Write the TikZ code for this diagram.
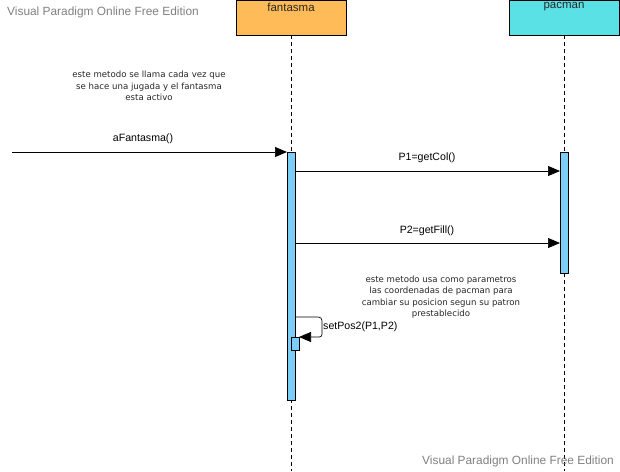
\documentclass[tikz,border=0pt]{standalone}
\usepackage{fontspec}
\setmainfont{Liberation Sans}
\newfontfamily\notefont{DejaVu Sans}
\usetikzlibrary{arrows.meta}
\definecolor{fantc}{RGB}{255,187,87}
\definecolor{pacc}{RGB}{90,225,230}
\definecolor{actc}{RGB}{125,206,245}
\definecolor{wmc}{RGB}{128,128,128}
\begin{document}
\begin{tikzpicture}[x=1pt,y=-1pt,
  head/.style={draw=black,line width=0.8pt,minimum width=110pt,minimum height=35pt,inner sep=0pt},
  life/.style={draw=black,dash pattern=on 4pt off 3pt,line width=0.6pt},
  actbox/.style={draw=black,fill=actc,line width=0.6pt},
  msg/.style={draw=black,line width=0.7pt,-{Triangle[length=12pt,width=10pt]}},
  lbl/.style={font=\fontsize{10.6}{12}\selectfont,inner sep=0pt},
  hlbl/.style={font=\fontsize{11.5}{13}\selectfont,inner sep=0pt,text=black!85},
  note/.style={font=\notefont\fontsize{8.6}{11.5}\selectfont,align=center,inner sep=0pt,text=black!85},
  wm/.style={font=\fontsize{11.9}{13}\selectfont,text=wmc,inner sep=0pt}]
\useasboundingbox (0,0) rectangle (620,471);
% lifelines
\coordinate (fl0) at (291,35);
\coordinate (fl1) at (291,471);
\coordinate (pl0) at (564,35);
\coordinate (pl1) at (564,471);
\draw[life] (fl0) -- (fl1);
\draw[life] (pl0) -- (pl1);
% heads
\node[head,fill=fantc,anchor=north west] (fant) at (236,0) {};
\node[hlbl,anchor=north] at (291,2.5) {fantasma};
\node[head,fill=pacc,anchor=north west] (pac) at (509,0) {};
\node[hlbl,anchor=north] at (564,2.5) {pacman};
% activations
\draw[actbox] (287,152) rectangle (295,400);
\draw[actbox] (560,152) rectangle (568,273);
\draw[actbox] (291,337) rectangle (299,350);
\coordinate (fa1) at (287,152);
\coordinate (start) at (12,152);
\draw[msg] (start) -- (fa1);
\node[lbl] at (143,139) {aFantasma()};
\coordinate (m1a) at (295,171);
\coordinate (m1b) at (560,171);
\draw[msg] (m1a) -- (m1b);
\node[lbl] at (427,158) {P1=getCol()};
\coordinate (m2a) at (295,243);
\coordinate (m2b) at (560,243);
\draw[msg] (m2a) -- (m2b);
\node[lbl] at (427,231) {P2=getFill()};
% self message
\coordinate (s0) at (295,317);
\coordinate (s1) at (299,337);
\draw[msg] (s0) -- (314,317) .. controls (322,317) and (322,317) .. (322,325) -- (322,331) .. controls (322,337) and (322,337) .. (316,337) -- (s1);
\node[lbl,anchor=west] at (323,327) {setPos2(P1,P2)};
% notes
\node[note] at (149,86) {este metodo se llama cada vez que\\se hace una jugada y el fantasma\\esta activo};
\node[note] at (441,297) {este metodo usa como parametros\\las coordenadas de pacman para\\cambiar su posicion segun su patron\\prestablecido};
% watermarks
\node[wm,anchor=west] at (7,12) {Visual Paradigm Online Free Edition};
\node[wm,anchor=west] at (422,461) {Visual Paradigm Online Free Edition};
\end{tikzpicture}
\end{document}
